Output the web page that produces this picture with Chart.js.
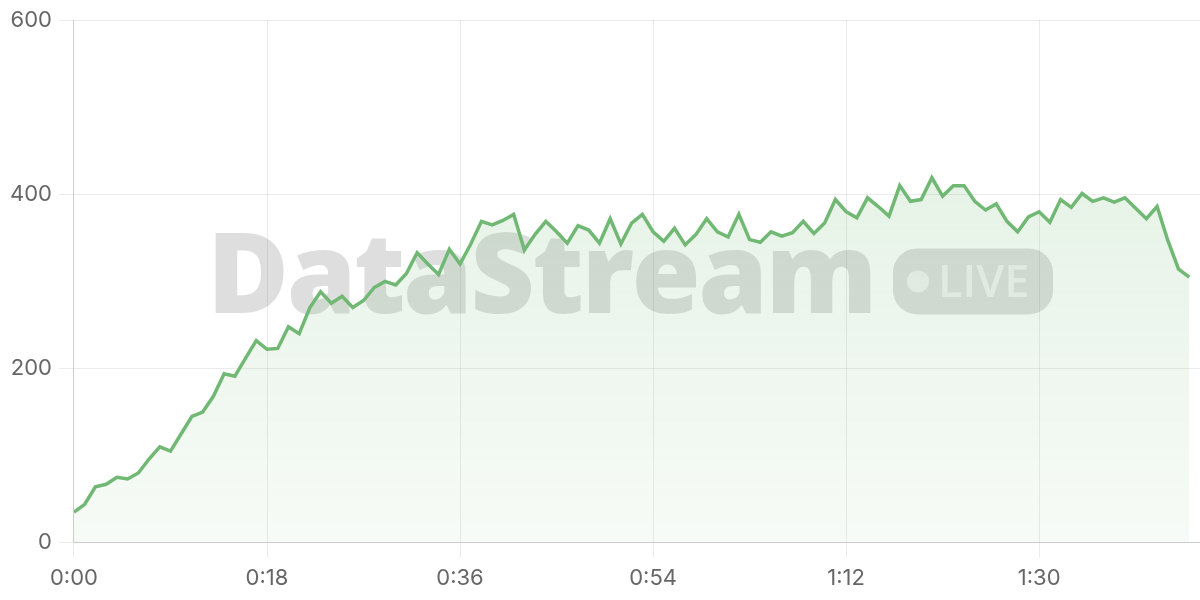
<!DOCTYPE html>
<html>
<head>
<meta charset="utf-8">
<script src="https://cdn.jsdelivr.net/npm/chart.js@4/dist/chart.umd.min.js"></script>
<style>
    html, body { margin: 0; padding: 0; background: #fff; }
    #wrap { width: 1200px; height: 600px; }
</style>
</head>
<body>
<div id="wrap"><canvas id="chart-stream"></canvas></div>
<script>
// ── Données ────────────────────────────────────────────────────────────
const values = [
    35, 44, 64, 67, 75, 73, 80, 96, 110, 105,
    125, 145, 150, 168, 194, 191, 212, 232, 222, 223,
    248, 240, 270, 288, 275, 283, 270, 278, 293, 300,
    296, 309, 333, 320, 308, 337, 320, 343, 369, 365,
    370, 377, 336, 354, 369, 357, 344, 364, 359, 344,
    372, 343, 367, 377, 357, 346, 361, 342, 354, 372,
    357, 351, 377, 348, 345, 357, 352, 356, 369, 355,
    367, 394, 380, 373, 396, 386, 375, 410, 392, 394,
    419, 398, 410, 410, 392, 382, 389, 369, 357, 374,
    380, 368, 394, 385, 401, 392, 396, 391, 396, 384,
    372, 386, 347, 314, 305
]
const tickLabels = ['0:00', '0:18', '0:36', '0:54', '1:12', '1:30']
const yTicks     = [0, 200, 400, 600]

// ── Watermark "DataStream • LIVE" ─────────────────────────────────────
const watermark = {
    id: 'watermark',
    beforeDatasetsDraw(chart) {
        const { ctx, chartArea: a } = chart
        const cx = (a.left + a.right) / 2 - 7
        const cy = (a.top + a.bottom) / 2

        ctx.save()
        ctx.font = '800 112px "Open Sans"'
        ctx.letterSpacing = '-2.5px'
        const wText = ctx.measureText('DataStream').width
        const gap = 18, bw = 160, bh = 66
        const x0 = cx - (wText + gap + bw) / 2

        ctx.fillStyle = 'rgba(0,0,0,0.13)'
        ctx.textBaseline = 'alphabetic'
        ctx.fillText('DataStream', x0, cy + 32)

        // badge
        const bx = x0 + wText + gap, by = cy - bh / 2
        ctx.beginPath()
        ctx.roundRect(bx, by, bw, bh, 24)
        ctx.fill()

        ctx.fillStyle = 'rgba(255,255,255,0.6)'
        ctx.beginPath()
        ctx.arc(bx + 25, cy, 11, 0, Math.PI * 2)
        ctx.fill()
        ctx.letterSpacing = '0px'
        ctx.font = '600 45px "Open Sans"'
        ctx.fillText('LIVE', bx + 45, cy + 16)
        ctx.restore()
    }
}

// ── Chart ─────────────────────────────────────────────────────────────
const ctxStream = document.getElementById('chart-stream')
const green = 'rgb(112,184,115)'
const grid  = 'rgba(0,0,0,0.08)'
const tick  = { color: '#666', font: { size: 22, family: 'Inter' } }

new Chart(ctxStream, {
    type: 'line',
    data: {
        datasets: [{
            data: values.map((v, i) => ({ x: i, y: v })),
            borderColor: green,
            borderWidth: 3.5,
            pointRadius: 0,
            tension: 0,
            fill: 'origin',
            backgroundColor: (c) => {
                const a = c.chart.chartArea
                if (!a) return 'rgba(112,184,115,0.1)'
                const g = c.chart.ctx.createLinearGradient(0, a.top, 0, a.bottom)
                g.addColorStop(0, 'rgba(112,184,115,0.22)')
                g.addColorStop(1, 'rgba(112,184,115,0.06)')
                return g
            },
        }]
    },
    options: {
        responsive: true,
        maintainAspectRatio: false,
        animation: false,
        layout: { padding: { left: 3, top: 8, right: 0, bottom: 0 } },
        plugins: { legend: { display: false }, tooltip: { enabled: false } },
        scales: {
            x: {
                type: 'linear',
                min: 0,
                max: 105,
                grid: { color: grid, tickLength: 15 },
                border: { color: '#ccc' },
                ticks: {
                    ...tick,
                    stepSize: 18,
                    includeBounds: false,
                    padding: 8,
                    maxRotation: 0,
                    callback: (v) => tickLabels[v / 18] ?? '',
                },
            },
            y: {
                min: yTicks[0],
                max: yTicks[yTicks.length - 1],
                grid: { color: grid, tickLength: 15 },
                border: { color: '#ccc' },
                ticks: { ...tick, stepSize: 200, padding: 7 },
            },
        },
    },
    plugins: [watermark],
})
</script>
</body>
</html>
